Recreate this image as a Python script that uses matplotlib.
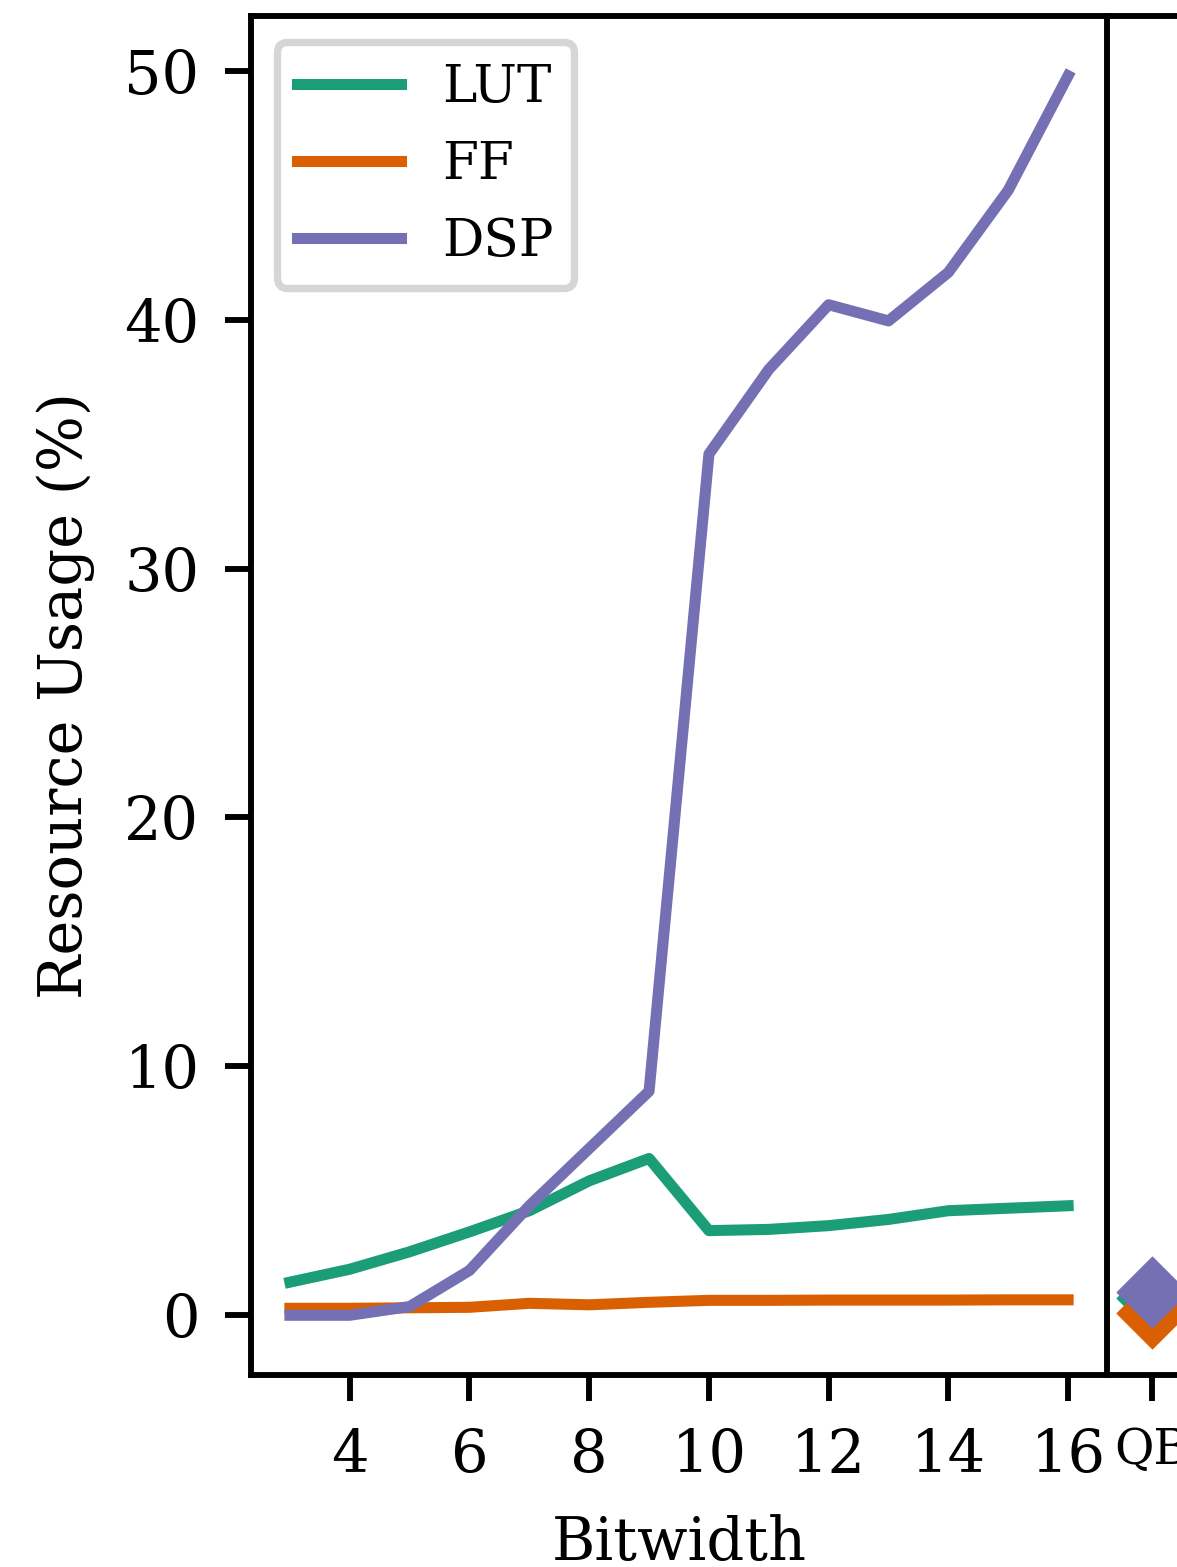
import numpy as np
import matplotlib
matplotlib.use("Agg")
import matplotlib.pyplot as plt

plt.rcParams["font.family"] = "DejaVu Serif"
plt.rcParams["font.size"] = 8

# data
bits = [3, 4, 5, 6, 7, 8, 9, 10, 11, 12, 13, 14, 15, 16]
lut = [1.33, 1.85, 2.55, 3.35, 4.2, 5.4, 6.3, 3.4, 3.45, 3.6, 3.85, 4.2, 4.3, 4.4]
ff = [0.28, 0.28, 0.3, 0.32, 0.48, 0.42, 0.52, 0.6, 0.6, 0.61, 0.61, 0.61, 0.62, 0.62]
dsp = [0.0, 0.0, 0.35, 1.8, 4.4, 6.7, 9.0, 34.6, 38.0, 40.6, 39.95, 41.9, 45.2, 49.8]

qb_label = ["QB"]
qb_lut = [0.7]
qb_ff = [0.1]
qb_dsp = [0.92]

names = ["LUT", "FF", "DSP"]
colors = ["#1b9e77", "#d95f02", "#7570b3"]

dpi = 531
fig = plt.figure(figsize=(1177 / dpi, 1567 / dpi), dpi=dpi)

W, H = 1177, 1567
ax1 = fig.add_axes([251 / W, 1 - 1375 / H, (1107 - 251) / W, (1375 - 16) / H])
ax2 = fig.add_axes([1111 / W, 1 - 1375 / H, 82 / W, (1375 - 16) / H], sharey=ax1)

for vals, name, c in zip([lut, ff, dsp], names, colors):
    ax1.plot(bits, vals, color=c, lw=1.5, label=name)

ax1.set_xticks([4, 6, 8, 10, 12, 14, 16])
ax1.set_yticks([0, 10, 20, 30, 40, 50])
ax1.set_ylim(-2.4, 52.2)
ax1.set_xlabel("Bitwidth")
ax1.set_ylabel("Resource Usage (%)")
ax1.legend(loc="upper left", fontsize=7)

# second panel (cut off at the right edge)
for vals, c in zip([qb_lut, qb_ff, qb_dsp], colors):
    ax2.plot([0], vals, linestyle="", marker="D", ms=6, color=c)
ax2.set_xlim(-0.5, 0.5)
ax2.set_xticks([0])
ax2.set_xticklabels(qb_label, fontsize=6.5)
ax2.spines["left"].set_visible(False)
ax2.tick_params(axis="y", left=False, labelleft=False)

fig.savefig("out.png", dpi=dpi)
